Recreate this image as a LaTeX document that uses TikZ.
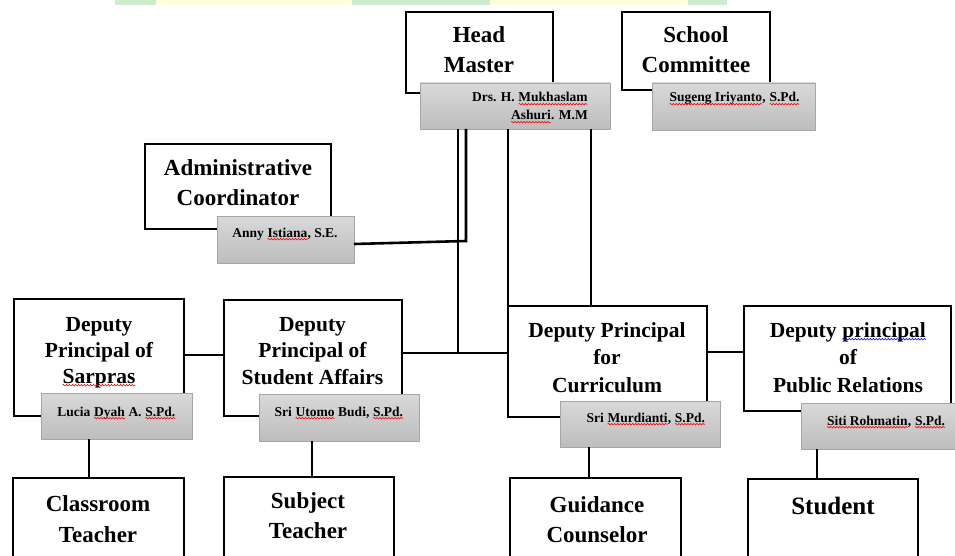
\documentclass[tikz,border=0pt]{standalone}
\usepackage{fontspec}
\setmainfont{Liberation Serif}
\usetikzlibrary{decorations.pathmorphing}
\newcommand\sqline[2]{\tikz[baseline=(w.base)]{\node[inner sep=0pt, outer sep=0pt, anchor=base, draw=none, fill=none] (w) {#2};\draw[#1, line width=0.6pt, decorate, decoration={snake, amplitude=0.8pt, segment length=3pt}] ([yshift=-2.2pt]w.base west) -- ([yshift=-2.2pt]w.base east);}}
\newcommand\sqr[1]{\sqline{red}{#1}}
\newcommand\sqb[1]{\sqline{blue}{#1}}
\definecolor{gtop}{HTML}{D9D9D9}
\definecolor{gbot}{HTML}{BDBDBD}
\definecolor{gedge}{HTML}{A6A6A6}
\definecolor{bandg}{HTML}{CDECCD}
\definecolor{bandy}{HTML}{FEFEDC}
\tikzset{
  box/.style={draw=black, line width=2.8pt, fill=white, inner sep=0pt, outer sep=0pt, anchor=north west},
  gbox/.style={draw=gedge, line width=0.8pt, top color=gtop, bottom color=gbot, inner sep=0pt, outer sep=0pt, anchor=north west},
  conn/.style={line width=2.6pt},
  ttl/.style={font=\bfseries\fontsize{21.5}{26.5}\selectfont, align=center, inner sep=0pt, anchor=base},
  ttlbig/.style={font=\bfseries\fontsize{23}{30}\selectfont, align=center, inner sep=0pt, anchor=base},
  gtx/.style={font=\bfseries\fontsize{13.5}{18}\selectfont, inner sep=0pt, anchor=base},
}
\begin{document}
\begin{tikzpicture}[x=1pt, y=-1pt]
\clip (0,0) rectangle (955,556);
\fill[white] (0,0) rectangle (955,556);
% top band
\fill[bandg] (115,0) rectangle (156,5);
\fill[bandy] (156,0) rectangle (352,5);
\fill[bandg] (352,0) rectangle (490,5);
\fill[bandy] (490,0) rectangle (688,5);
\fill[bandg] (688,0) rectangle (727,5);

% main boxes
\node[box, minimum width=147pt, minimum height=81pt] (hm) at (406,12) {};
\node[box, minimum width=148pt, minimum height=78pt] (sc) at (622,12) {};
\node[box, minimum width=186pt, minimum height=85pt] (ac) at (145,144) {};
\node[box, minimum width=170pt, minimum height=117pt] (sar) at (14,299) {};
\node[box, minimum width=178pt, minimum height=116pt] (sa) at (224,300) {};
\node[box, minimum width=199pt, minimum height=111pt] (cur) at (508,306) {};
\node[box, minimum width=207pt, minimum height=105pt] (pr) at (744,306) {};
\node[box, minimum width=171pt, minimum height=95pt] (ct) at (13,478) {};
\node[box, minimum width=170pt, minimum height=95pt] (st) at (224,477) {};
\node[box, minimum width=171pt, minimum height=95pt] (gc) at (510,478) {};
\node[box, minimum width=170pt, minimum height=95pt] (stu) at (748,479) {};

% grey name boxes
\node[gbox, minimum width=190pt, minimum height=46pt] (hmg) at (420,83) {};
\node[gbox, minimum width=163pt, minimum height=47pt] (scg) at (652,83) {};
\node[gbox, minimum width=137pt, minimum height=47pt] (acg) at (217,216) {};
\node[gbox, minimum width=151pt, minimum height=46pt] (sarg) at (41,393) {};
\node[gbox, minimum width=160pt, minimum height=47pt] (sag) at (259,394) {};
\node[gbox, minimum width=160pt, minimum height=46pt] (curg) at (560,401) {};
\node[gbox, minimum width=165pt, minimum height=46pt] (prg) at (801,403) {};

% helper coordinates
\coordinate (xA) at (458,353);
\coordinate (xB) at (466,241);
\coordinate (xC) at (508,0);
\coordinate (xD) at (591,0);
\coordinate (yE) at (0,244);
\coordinate (yF) at (0,355);
\coordinate (yG) at (0,352);
\coordinate (v1) at (89,0);
\coordinate (v2) at (312,0);
\coordinate (v3) at (589,0);
\coordinate (v4) at (817,0);

% connectors
\draw[conn] (hmg.south -| xA) -- (xA);
\draw[conn] (hmg.south -| xB) -- (xB) -- (acg.east |- yE);
\draw[conn] (sa.east |- xA) -- (cur.west |- xA);
\draw[conn] (sar.east |- yF) -- (sa.west |- yF);
\draw[conn] (cur.east |- yG) -- (pr.west |- yG);
\draw[conn] (hmg.south -| xC) -- (cur.north -| xC);
\draw[conn] (hmg.south -| xD) -- (cur.north -| xD);
\draw[conn] (sarg.south -| v1) -- (ct.north -| v1);
\draw[conn] (sag.south -| v2) -- (st.north -| v2);
\draw[conn] (curg.south -| v3) -- (gc.north -| v3);
\draw[conn] (prg.south -| v4) -- (stu.north -| v4);

% titles (anchor = baseline of the last line)
\node[ttlbig] (hmt) at (479,73) {Head\\Master};
\node[ttlbig] (sct) at (696,73) {School\\Committee};
\node[ttlbig, font=\bfseries\fontsize{23}{29}\selectfont] (act) at (238,205) {Administrative\\Coordinator};
\node[ttl, font=\bfseries\fontsize{21.5}{26}\selectfont] (sart) at (99,383) {Deputy\\Principal of\\\sqr{Sarpras}};
\node[ttl] (sat) at (312.5,384) {Deputy\\Principal of\\Student Affairs};
\node[ttl, font=\bfseries\fontsize{21.5}{27.5}\selectfont] (curt) at (607,392) {Deputy Principal\\for\\Curriculum};
\node[ttl, font=\bfseries\fontsize{21.5}{27.5}\selectfont] (prt) at (848,392) {Deputy \sqb{principal}\\of\\Public Relations};
\node[ttlbig, font=\bfseries\fontsize{23}{31}\selectfont] (ctt) at (98,542) {Classroom\\Teacher};
\node[ttlbig] (stt) at (308,538) {Subject\\Teacher};
\node[ttlbig] (gct) at (597,542) {Guidance\\Counselor};
\node[ttlbig, font=\bfseries\fontsize{25}{30}\selectfont] (stut) at (833,514) {Student};

% names
\node[gtx, anchor=base east, align=right] (hmn) at (588,120) {Drs. H. \sqr{Mukhaslam}\\\sqr{Ashuri}. M.M};
\node[gtx, anchor=base west] (scn) at (669,102) {\sqr{Sugeng Iriyanto}, \sqr{S.Pd.}};
\node[gtx] (acn) at (285,237) {Anny \sqr{Istiana}, S.E.};
\node[gtx] (sarn) at (116.5,416) {Lucia \sqr{Dyah} A. \sqr{S.Pd.}};
\node[gtx] (san) at (339,416) {Sri \sqr{Utomo} Budi, \sqr{S.Pd.}};
\node[gtx] (curn) at (646,422) {Sri \sqr{Murdianti}, \sqr{S.Pd.}};
\node[gtx] (prn) at (886,425) {\sqr{Siti Rohmatin}, \sqr{S.Pd.}};
\end{tikzpicture}
\end{document}
